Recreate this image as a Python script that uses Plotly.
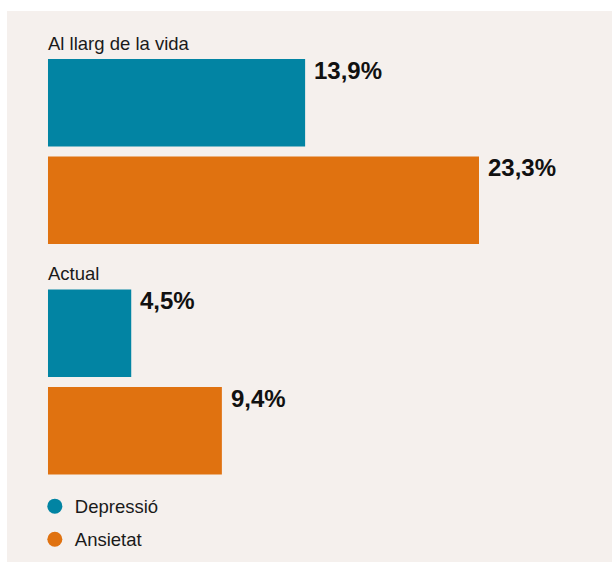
import plotly.graph_objects as go

categories = ["Al llarg de la vida", "Actual"]
series_names = ["Depressió", "Ansietat"]
depressio = [13.9, 4.5]
ansietat = [23.3, 9.4]
colors = ["#0284a3", "#e07210"]
bg = "#f5f0ed"
FONT = "Liberation Sans, Arial, Helvetica, sans-serif"

bargap = 0.154
bargroupgap = 0.1026

fig = go.Figure()
for name, vals, col in zip(series_names, [depressio, ansietat], colors):
    fig.add_trace(go.Bar(
        y=categories, x=vals, orientation="h", name=name,
        marker=dict(color=col, line=dict(width=0)),
        showlegend=False, hoverinfo="skip",
    ))
    fig.add_trace(go.Scatter(
        x=[None], y=[None], mode="markers", name=name, legendgroup=name,
        marker=dict(color=col, size=15, symbol="circle"),
        showlegend=True,
    ))

slot = (1 - bargap) / 2
annotations = []
for ci, cat in enumerate(categories):
    group_top = ci - (1 - bargap) / 2
    annotations.append(dict(
        x=0, y=group_top + slot * bargroupgap / 2, xref="x", yref="y", text=cat, showarrow=False,
        xanchor="left", yanchor="bottom", yshift=3, xshift=-2,
        font=dict(family=FONT, size=18.5, color="#1a1a1a"),
    ))
    for si, vals in enumerate([depressio, ansietat]):
        bar_top = group_top + si * slot + slot * bargroupgap / 2
        annotations.append(dict(
            x=vals[ci], y=bar_top, xref="x", yref="y",
            text="<b>" + f"{vals[ci]:.1f}".replace(".", ",") + "%</b>",
            showarrow=False, xanchor="left", yanchor="top", xshift=7, yshift=4,
            font=dict(family=FONT, size=24, color="#111111"),
        ))

fig.update_layout(
    width=612, height=565,
    margin=dict(l=7, r=0, t=11, b=3),
    paper_bgcolor="white", plot_bgcolor=bg,
    barmode="group", bargap=bargap, bargroupgap=bargroupgap,
    xaxis=dict(range=[-2.216, 30.49], visible=False, showgrid=False, zeroline=False),
    yaxis=dict(range=[1.781, -0.6095], visible=False, showgrid=False, zeroline=False,
               type="category", categoryorder="array", categoryarray=categories),
    legend=dict(x=0.046, y=0.135, xanchor="left", yanchor="top", bgcolor="rgba(0,0,0,0)",
                font=dict(family=FONT, size=18.5, color="#1a1a1a"), tracegroupgap=6,
                itemsizing="trace"),
    annotations=annotations,
    font=dict(family=FONT),
)

fig.write_html("out.html")
